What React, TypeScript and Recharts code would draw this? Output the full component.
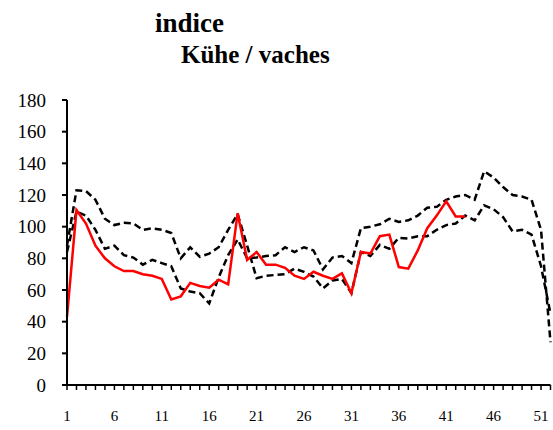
import React from 'react';
import { LineChart, Line, XAxis, YAxis } from 'recharts';

const weeks = [1, 2, 3, 4, 5, 6, 7, 8, 9, 10, 11, 12, 13, 14, 15, 16, 17, 18, 19, 20, 21, 22, 23, 24, 25, 26, 27, 28, 29, 30, 31, 32, 33, 34, 35, 36, 37, 38, 39, 40, 41, 42, 43, 44, 45, 46, 47, 48, 49, 50, 51, 52];

const currentYear = [43, 110.5, 102, 88, 80, 75, 72, 72, 70, 69, 67, 54, 56, 64.5, 62.5, 61.5, 66.5, 63.5, 108.5, 79, 84, 76, 76, 74, 69, 67, 71.5, 69, 67, 70.5, 58, 84, 83, 94, 95, 74.5, 73.5, 85, 99, 107, 116, 106.5, 106.5];

const seriesA = [88, 123, 122.5, 117, 105, 101, 102.5, 102, 98, 99, 98, 96, 80, 87, 81, 83, 87, 98, 108, 88, 67.5, 69, 69.5, 70, 73.5, 71.5, 68.5, 61, 66, 67, 58, 84, 81.5, 88.5, 86, 93, 92.5, 94, 94, 98, 101, 102, 107, 104, 113.5, 111, 106, 97, 98, 95, 75, 45];

const seriesB = [84, 109.5, 107, 98, 86, 88, 82, 80.5, 76, 79, 77, 75, 61, 59, 58, 51.5, 68, 82, 92, 80, 80.5, 81.5, 82, 87, 84, 87, 85, 73, 80.5, 81.5, 77, 99, 100, 101.5, 105, 103, 104, 107, 112, 112.5, 117, 119, 120, 117, 135, 131, 125, 120, 119, 117, 98, 27];

const yTicks = [0, 20, 40, 60, 80, 100, 120, 140, 160, 180];
const xLabelWeeks = [1, 6, 11, 16, 21, 26, 31, 36, 41, 46, 51];

const titleMain = 'indice';
const titleSub = 'Kühe / vaches';

const data = weeks.map((w, i) => ({
  week: w,
  a: seriesA[i],
  b: seriesB[i],
  cur: i < currentYear.length ? currentYear[i] : null,
}));

const FONT = '"Liberation Serif", "Times New Roman", serif';

const XTick = (props: any) => {
  const { x, y, payload } = props;
  if (!xLabelWeeks.includes(payload.value)) return <g />;
  return (
    <text x={x} y={y} dy="0.71em" textAnchor="middle" fontSize={15} fill="#000" className="serif-t">
      {payload.value}
    </text>
  );
};

const YTick = (props: any) => {
  const { x, y, payload } = props;
  return (
    <text x={x} y={y} dy="0.355em" textAnchor="end" fontSize={19} fill="#000" className="serif-t">
      {payload.value}
    </text>
  );
};

export default function App() {
  return (
    <div style={{ position: 'absolute', left: 0, top: 0, width: 553, height: 430, fontFamily: FONT, background: '#fff' }}>
      <style>{`svg text, .serif-t { font-family: "Liberation Serif", "Times New Roman", serif !important; }`}</style>
      <LineChart
        width={553}
        height={430}
        data={data}
        margin={{ top: 100, right: 2.5, bottom: 5, left: 0 }}
      >
        <XAxis
          dataKey="week"
          type="number"
          domain={[1, 52]}
          ticks={weeks}
          interval={0}
          tick={<XTick />}
          tickSize={5}
          tickMargin={20}
          height={40}
          axisLine={{ stroke: '#000', strokeWidth: 2 }}
          tickLine={{ stroke: '#000', strokeWidth: 1.5 }}
        />
        <YAxis
          type="number"
          domain={[0, 180]}
          ticks={yTicks}
          interval={0}
          width={67}
          tickSize={5}
          tickMargin={16}
          tick={<YTick />}
          axisLine={{ stroke: '#000', strokeWidth: 2 }}
          tickLine={{ stroke: '#000', strokeWidth: 2 }}
        />
        <Line type="linear" dataKey="a" stroke="#000" strokeWidth={2.5} strokeDasharray="7 4" dot={false} isAnimationActive={false} />
        <Line type="linear" dataKey="b" stroke="#000" strokeWidth={2.5} strokeDasharray="7 4" dot={false} isAnimationActive={false} />
        <Line type="linear" dataKey="cur" stroke="#ff0000" strokeWidth={2.5} dot={false} isAnimationActive={false} connectNulls={false} />
      </LineChart>
      <svg width={553} height={430} style={{ position: 'absolute', left: 0, top: 0, pointerEvents: 'none' }}>
        <text x={155} y={31.5} fontSize={27} fontWeight="bold" fill="#000">{titleMain}</text>
        <text x={181} y={63} fontSize={25} fontWeight="bold" fill="#000">{titleSub}</text>
      </svg>
    </div>
  );
}
